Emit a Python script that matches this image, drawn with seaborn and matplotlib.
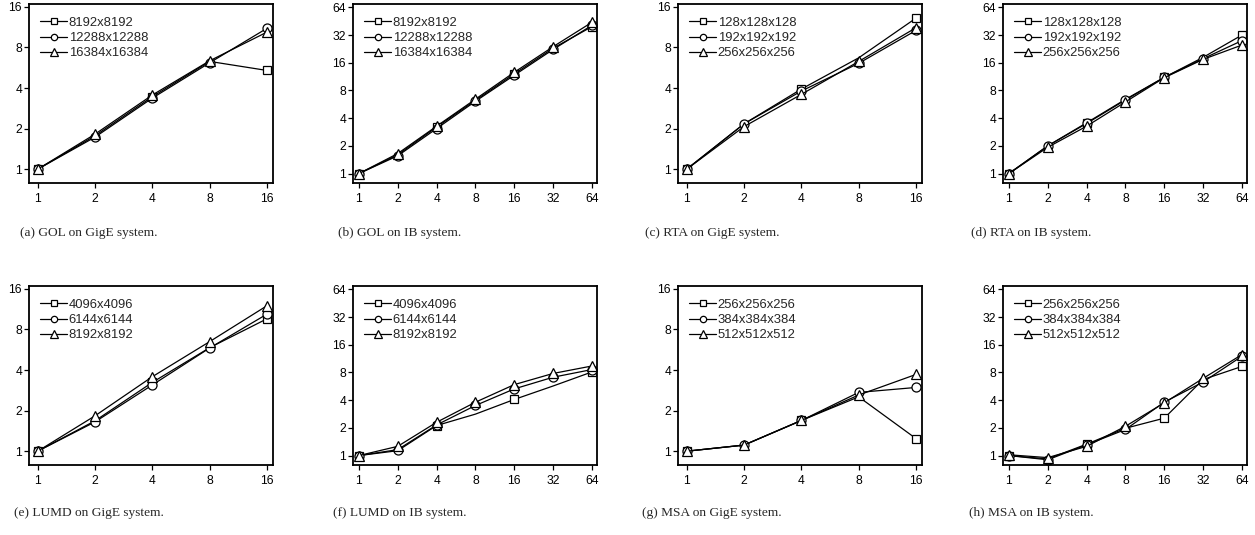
import matplotlib
matplotlib.use("Agg")
import matplotlib.pyplot as plt
import seaborn as sns
import pandas as pd

# ---------------- data ----------------
x_gige = [1, 2, 4, 8, 16]
x_ib = [1, 2, 4, 8, 16, 32, 64]
ticks_gige = [1, 2, 4, 8, 16]
ticks_ib = [1, 2, 4, 8, 16, 32, 64]

gol_labels = ["8192x8192", "12288x12288", "16384x16384"]
rta_labels = ["128x128x128", "192x192x192", "256x256x256"]
lumd_labels = ["4096x4096", "6144x6144", "8192x8192"]
msa_labels = ["256x256x256", "384x384x384", "512x512x512"]

gol_gige_a = [1.0, 1.77, 3.45, 6.3, 5.4]
gol_gige_b = [1.0, 1.73, 3.37, 6.16, 11.1]
gol_gige_c = [1.0, 1.82, 3.55, 6.37, 10.4]

gol_ib_a = [1.0, 1.6, 3.2, 6.25, 12.1, 23.0, 39.5]
gol_ib_b = [1.0, 1.56, 3.08, 6.1, 11.7, 22.3, 40.8]
gol_ib_c = [1.0, 1.65, 3.27, 6.43, 12.6, 23.9, 44.0]

rta_gige_a = [1.0, 2.17, 3.93, 6.7, 13.2]
rta_gige_b = [1.0, 2.17, 3.8, 6.1, 10.7]
rta_gige_c = [1.0, 2.07, 3.59, 6.3, 11.2]

rta_ib_a = [1.0, 2.0, 3.56, 6.4, 11.1, 18.3, 32.0]
rta_ib_b = [1.0, 2.0, 3.5, 6.3, 11.1, 17.7, 27.8]
rta_ib_c = [1.0, 1.93, 3.27, 6.0, 11.0, 17.4, 24.9]

lumd_gige_a = [1.0, 1.68, 3.24, 5.86, 9.6]
lumd_gige_b = [1.0, 1.65, 3.1, 5.83, 10.4]
lumd_gige_c = [1.0, 1.83, 3.57, 6.5, 12.0]

lumd_ib_a = [1.0, 1.13, 2.12, 2.82, 4.07, 5.7, 8.1]
lumd_ib_b = [1.0, 1.16, 2.15, 3.5, 5.3, 7.1, 8.6]
lumd_ib_c = [1.0, 1.26, 2.3, 3.8, 5.9, 7.8, 9.4]

msa_gige_a = [1.0, 1.11, 1.69, 2.53, 1.24]
msa_gige_b = [1.0, 1.11, 1.69, 2.73, 2.97]
msa_gige_c = [1.0, 1.11, 1.69, 2.61, 3.71]

msa_ib_a = [1.0, 0.92, 1.33, 1.98, 2.55, 6.7, 9.3]
msa_ib_b = [1.0, 0.9, 1.31, 1.92, 3.8, 6.3, 12.0]
msa_ib_c = [1.02, 0.95, 1.26, 2.08, 3.74, 6.9, 12.5]

captions = [
    "(a) GOL on GigE system.", "(b) GOL on IB system.",
    "(c) RTA on GigE system.", "(d) RTA on IB system.",
    "(e) LUMD on GigE system.", "(f) LUMD on IB system.",
    "(g) MSA on GigE system.", "(h) MSA on IB system.",
]

panels = [
    (x_gige, ticks_gige, gol_labels, [gol_gige_a, gol_gige_b, gol_gige_c]),
    (x_ib, ticks_ib, gol_labels, [gol_ib_a, gol_ib_b, gol_ib_c]),
    (x_gige, ticks_gige, rta_labels, [rta_gige_a, rta_gige_b, rta_gige_c]),
    (x_ib, ticks_ib, rta_labels, [rta_ib_a, rta_ib_b, rta_ib_c]),
    (x_gige, ticks_gige, lumd_labels, [lumd_gige_a, lumd_gige_b, lumd_gige_c]),
    (x_ib, ticks_ib, lumd_labels, [lumd_ib_a, lumd_ib_b, lumd_ib_c]),
    (x_gige, ticks_gige, msa_labels, [msa_gige_a, msa_gige_b, msa_gige_c]),
    (x_ib, ticks_ib, msa_labels, [msa_ib_a, msa_ib_b, msa_ib_c]),
]

# ---------------- style ----------------
sns.set_theme(style="ticks")
plt.rcParams["font.family"] = ["Liberation Sans", "DejaVu Sans"]
plt.rcParams["axes.linewidth"] = 1.3
plt.rcParams["xtick.major.width"] = 0.9
plt.rcParams["ytick.major.width"] = 0.9
plt.rcParams["xtick.major.size"] = 3.5
plt.rcParams["ytick.major.size"] = 3.5
plt.rcParams["xtick.major.pad"] = 4.0
plt.rcParams["ytick.major.pad"] = 1.5

W, H = 1255, 535
fig = plt.figure(figsize=(W / 100, H / 100), dpi=100)

lefts = [29, 353, 678, 1003]
tops = [4, 286]
aw, ah = 244, 179
cap_x = [89, 400, 712, 1031]
cap_y = [233, 513]

markers = ["s", "o", "^"]
msizes = [6.0, 6.5, 7.5]

for i, (xs, ticks, labels, series) in enumerate(panels):
    r, c = divmod(i, 4)
    l = lefts[c] / W
    b = 1 - (tops[r] + ah) / H
    ax = fig.add_axes([l, b, aw / W, ah / H])
    for k, (lab, ys) in enumerate(zip(labels, series)):
        df = pd.DataFrame({"x": xs, "y": ys})
        sns.lineplot(data=df, x="x", y="y", ax=ax, color="black",
                     linewidth=0.9, marker=markers[k], markersize=msizes[k],
                     markerfacecolor="white", markeredgecolor="black",
                     markeredgewidth=0.9, label=lab,
                     markevery=2 if k == 0 else 1)
    ax.set_xscale("log", base=2)
    ax.set_yscale("log", base=2)
    ax.set_xticks(ticks)
    ax.set_xticklabels([str(t) for t in ticks])
    ax.set_yticks(ticks)
    ax.set_yticklabels([str(t) for t in ticks])
    ax.minorticks_off()
    if ticks[-1] == 16:
        ax.set_xlim(0.9, 17.2)
        ax.set_ylim(0.79, 16.8)
    else:
        ax.set_xlim(0.9, 70)
        ax.set_ylim(0.79, 69.5)
    ax.set_xlabel("")
    ax.set_ylabel("")
    ax.tick_params(labelsize=8.7, colors="black")
    for s in ax.spines.values():
        s.set_color("black")
    ax.legend(loc="upper left", bbox_to_anchor=(0.045, 0.93),
              frameon=False, fontsize=9.4, handlelength=2.1,
              handletextpad=0.1, labelspacing=0.25, borderpad=0,
              borderaxespad=0, markerscale=0.7)
    fig.text(cap_x[c] / W, 1 - cap_y[r] / H, captions[i], ha="center",
             va="center", fontsize=9.6, family=["Liberation Serif", "DejaVu Serif"])

fig.savefig("out.png", dpi=100)
